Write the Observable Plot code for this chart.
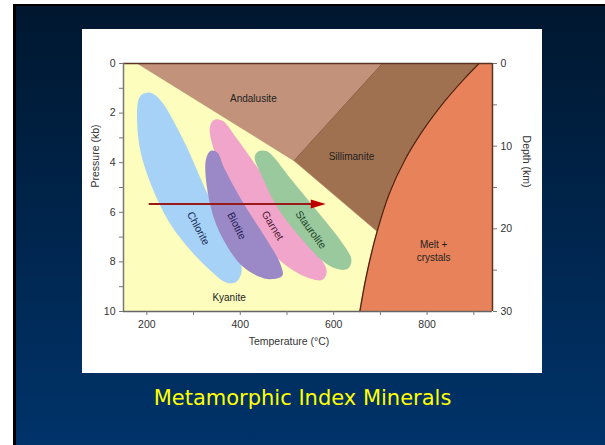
<!DOCTYPE html>
<html><head><meta charset="utf-8">
<script src="https://cdn.jsdelivr.net/npm/d3@7"></script>
<script src="https://cdn.jsdelivr.net/npm/@observablehq/plot@0.6"></script>
<style>
html,body{margin:0;padding:0;width:605px;height:445px;overflow:hidden;background:#fff;}
#slide{position:absolute;left:13px;top:4px;width:589px;height:439px;border-left:3px solid #000;border-top:2px solid #000;background:linear-gradient(#00172f,#00336a);}
#panel{position:absolute;left:82px;top:29px;width:460px;height:344px;background:#fff;}
#panel svg{display:block;}
#title{position:absolute;left:0;width:605px;top:385px;line-height:26px;text-align:center;color:#ffff00;font-family:"DejaVu Sans",sans-serif;font-size:21px;}
</style>
</head><body>
<div id="slide"></div>
<div id="panel"></div>
<div id="title">Metamorphic Index Minerals</div>
<script>
// ---- data (temperature °C, pressure kb) ----
const tempDomain = [150, 940];
const pressureDomain = [0, 10];
const xTicks = [200, 300, 400, 500, 600, 700, 800, 900];
const xTickLabels = [200, 400, 600, 800];
const pTicks = [0, 1, 2, 3, 4, 5, 6, 7, 8, 9, 10];
const pTickLabels = [0, 2, 4, 6, 8, 10];
const depthTicks = [0, 5, 10, 15, 20, 25, 30];
const depthTickLabels = [0, 10, 20, 30];
const depthAtMaxPressure = 30; // km at 10 kb

const andalusite = [[180, 0], [515, 3.92], [704, 0]];
const sillimanite = [[704, 0], [515, 3.92], [693, 6.77], [940, 6.77], [940, 0]];
const kyaniteBoundary = [[180, 0], [515, 3.92], [693, 6.77]];
const andSilBoundary = [[515, 3.92], [704, 0]];
const meltCurve = [[911, 0], [876, 0.69], [839, 1.49], [791, 2.7], [752, 3.9], [720, 5.2], [693, 6.77], [670, 8.56], [656, 10]];

const chlorite = [[189,1.26],[208,1.18],[230,1.5],[277,3.04],[332,5.33],[390,7.47],[403,8.36],[392,8.8],[371,8.84],[332,8.28],[268,6.95],[226,5.62],[187,3.6],[179,1.91],[183,1.42]];
const garnet = [[344,2.27],[362,2.31],[390,2.96],[439,4.25],[508,6.1],[561,7.55],[585,8.36],[576,8.72],[551,8.68],[508,8.28],[444,7.15],[380,5.14],[341,3.32],[335,2.56]];
const staurolite = [[440,3.53],[457,3.54],[469,3.72],[508,4.65],[564,5.94],[615,7.15],[638,7.92],[630,8.28],[606,8.28],[574,7.92],[529,7.03],[480,5.82],[444,4.45],[431,3.76]];
const biotite = [[337,3.52],[351,3.59],[365,4.19],[408,5.67],[458,7.15],[486,8.09],[490,8.56],[458,8.69],[408,8.23],[365,7.15],[337,5.81],[326,3.92]];

const heatingPath = [{t0: 205, t1: 575, tip: 583, p: 5.67}];

const regionLabels = [
  {name: "Andalusite", t: 428, p: 1.41},
  {name: "Sillimanite", t: 638, p: 3.76},
  {name: "Melt +", t: 814, p: 7.31},
  {name: "crystals", t: 814, p: 7.82},
  {name: "Kyanite", t: 376, p: 9.44}
];
const mineralLabels = [
  {name: "Chlorite", t: 310, p: 6.65},
  {name: "Biotite", t: 392, p: 6.55},
  {name: "Garnet", t: 469, p: 6.54},
  {name: "Staurolite", t: 551, p: 6.71}
];

// ---- styles ----
const labelAngle = {Chlorite: 62, Biotite: 63, Garnet: 58, Staurolite: 54};
const labelColor = {Chlorite: "#1c2d55", Biotite: "#261c55", Garnet: "#4a1c34", Staurolite: "#1c4026"};
const font = "'Liberation Sans', Arial, sans-serif";

const arrowHead = {
  draw(ctx) {
    ctx.moveTo(0, 0);
    ctx.lineTo(-15, -4.5);
    ctx.lineTo(-15, 4.5);
    ctx.closePath();
  }
};

const T = d => d[0], P = d => d[1];
const blob = (data, fill) => Plot.line(data, {x: T, y: P, curve: "catmull-rom-closed", fill, stroke: "none"});

const chart = Plot.plot({
  width: 460, height: 344,
  marginLeft: 41, marginRight: 50, marginTop: 34, marginBottom: 62,
  style: {fontFamily: font, fontSize: "10px", background: "#fff", overflow: "visible"},
  x: {domain: tempDomain},
  y: {domain: pressureDomain, reverse: true},
  marks: [
    Plot.frame({fill: "#fdfdbd", stroke: null}),
    Plot.line(andalusite, {x: T, y: P, curve: "linear-closed", fill: "#c3927a", stroke: "none"}),
    Plot.line(sillimanite, {x: T, y: P, curve: "linear-closed", fill: "#a07150", stroke: "none"}),
    Plot.line(andSilBoundary, {x: T, y: P, stroke: "#7c5038", strokeWidth: 0.8}),
    Plot.line(kyaniteBoundary, {x: T, y: P, stroke: "#b08a70", strokeWidth: 0.6}),
    Plot.areaX(meltCurve, {y: P, x1: T, x2: () => tempDomain[1], curve: "catmull-rom", fill: "#e8825a"}),
    Plot.line(meltCurve, {x: T, y: P, curve: "catmull-rom", stroke: "#4a2614", strokeWidth: 1.3}),
    blob(chlorite, "#a5d2f6"),
    blob(garnet, "#f2a5cb"),
    blob(staurolite, "#99c99d"),
    blob(biotite, "#9a89c6"),
    Plot.ruleY([pressureDomain[0]], {stroke: "#5a3420", strokeWidth: 1.5}),
    Plot.ruleX([tempDomain[1]], {stroke: "#5a3420", strokeWidth: 1.5}),
    Plot.ruleX([tempDomain[0]], {stroke: "#777", strokeWidth: 1.5}),
    Plot.ruleY([pressureDomain[1]], {stroke: "#666", strokeWidth: 1.5}),
    Plot.ruleY(heatingPath, {y: "p", x1: "t0", x2: "t1", stroke: "#9a1a1a", strokeWidth: 2}),
    Plot.dot(heatingPath, {x: "tip", y: "p", symbol: arrowHead, fill: "#c00000", stroke: "none"}),
    Plot.text(regionLabels, {x: "t", y: "p", text: "name", fill: "#222", fontSize: 10}),
    Plot.text(mineralLabels, {x: "t", y: "p", text: "name", rotate: d => labelAngle[d.name], fill: d => labelColor[d.name], fontSize: 10.5}),
    Plot.axisX({ticks: xTicks, tickFormat: d => xTickLabels.includes(d) ? d : "", tickSize: 4, tickPadding: 5, stroke: "#777", fill: "#333", label: null, fontSize: 10.5}),
    Plot.axisY({anchor: "left", ticks: pTicks, tickFormat: d => pTickLabels.includes(d) ? d : "", tickSize: 4, tickPadding: 4, stroke: "#777", fill: "#333", label: null, fontSize: 10.5}),
    Plot.axisY({anchor: "right", ticks: depthTicks.map(k => k * pressureDomain[1] / depthAtMaxPressure),
      tickFormat: d => { const km = Math.round(d * depthAtMaxPressure / pressureDomain[1]); return depthTickLabels.includes(km) ? km : ""; },
      tickSize: 4, tickPadding: 4, stroke: "#777", fill: "#333", label: null, fontSize: 10.5}),
    Plot.text(["Temperature (°C)"], {text: d => d, frameAnchor: "bottom", dy: 33, dx: -19, fill: "#333", fontSize: 10.5}),
    Plot.text(["Pressure (kb)"], {text: d => d, frameAnchor: "left", dx: -28, rotate: -90, fill: "#333", fontSize: 10.5}),
    Plot.text(["Depth (km)"], {text: d => d, frameAnchor: "right", dx: 34, rotate: 90, fill: "#333", fontSize: 10.5})
  ]
});
document.getElementById("panel").appendChild(chart);
</script>
</body></html>
